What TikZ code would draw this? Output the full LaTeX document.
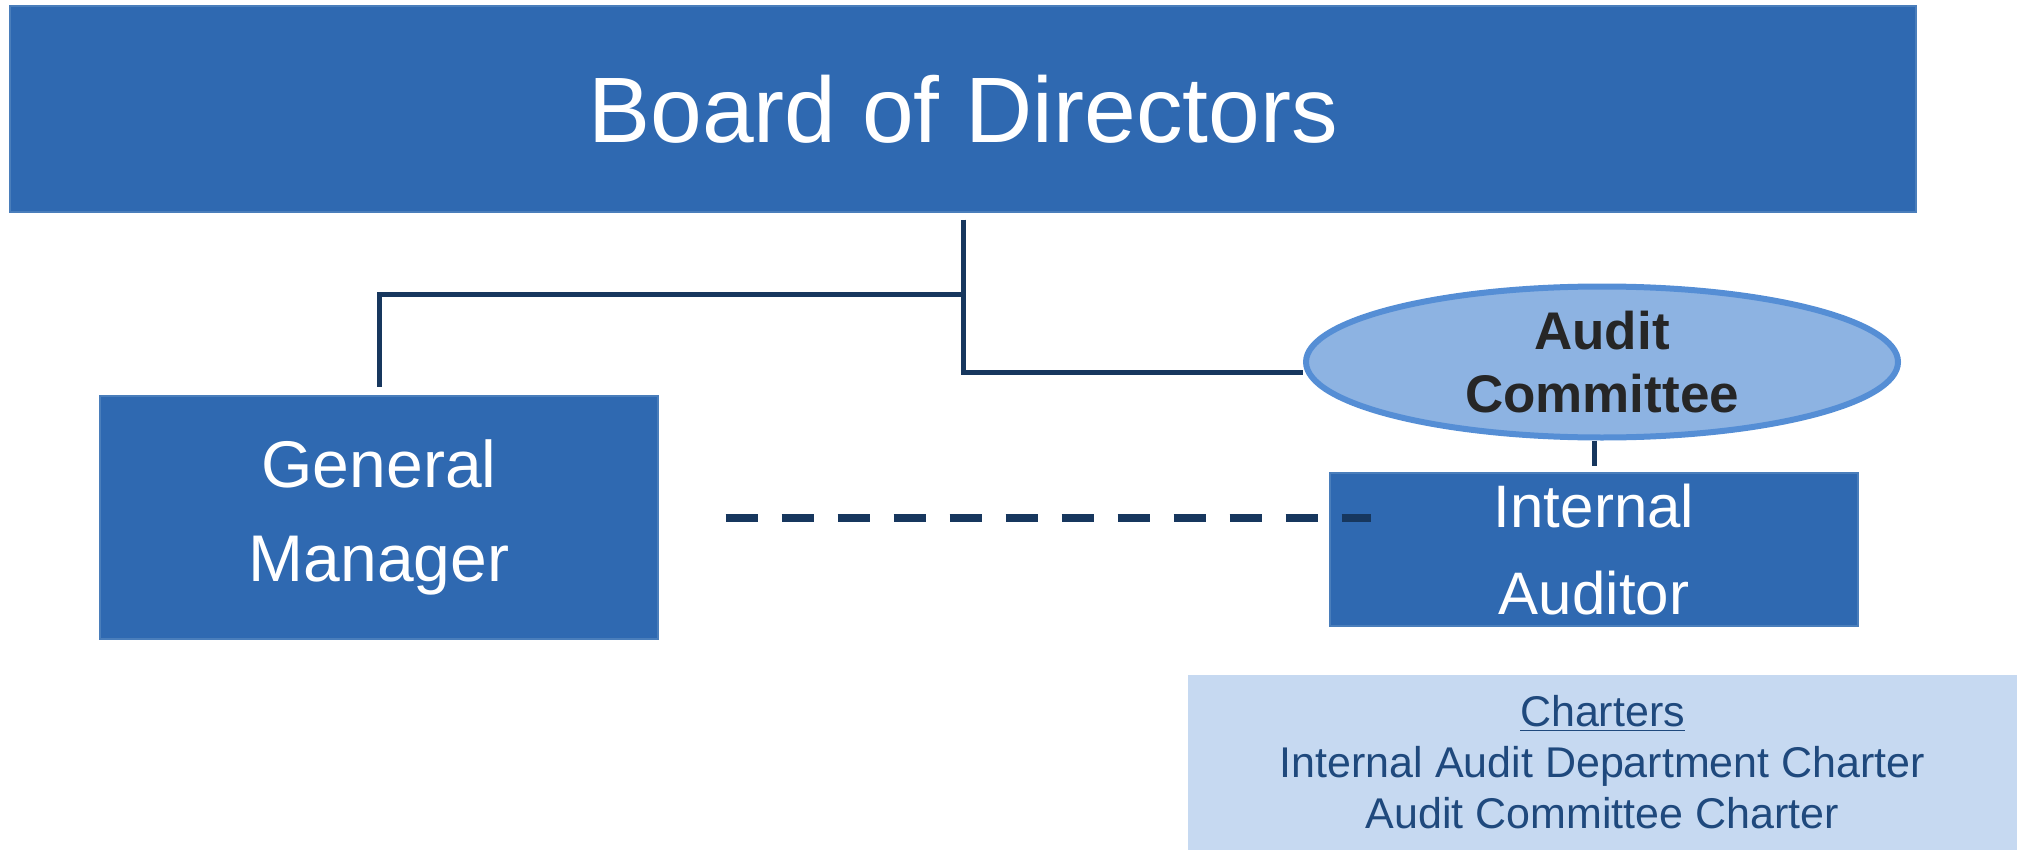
\documentclass[tikz,border=0pt]{standalone}
\usepackage{fontspec}
\setmainfont{Liberation Sans}
\usetikzlibrary{shapes.geometric}

\definecolor{boxblue}{HTML}{2F69B1}
\definecolor{boxline}{HTML}{4A7EBB}
\definecolor{navy}{HTML}{17375E}
\definecolor{ellfill}{HTML}{8DB3E2}
\definecolor{ellline}{HTML}{558ED5}
\definecolor{chfill}{HTML}{C6D9F1}
\definecolor{chtext}{HTML}{1F497D}
\definecolor{actext}{HTML}{262626}

\begin{document}
\begin{tikzpicture}[x=0.5pt,y=-0.5pt,
  box/.style={rectangle,fill=boxblue,draw=boxline,line width=0.6pt,text=white,align=center,inner sep=0pt},
  committee/.style={ellipse,fill=ellfill,draw=ellline,line width=3pt,text=actext,align=center,inner sep=0pt,
    font=\fontsize{26.5pt}{31.5pt}\selectfont\bfseries},
  orgline/.style={draw=navy,line width=2.5pt},
  dashline/.style={draw=navy,line width=4pt,dash pattern=on 16pt off 12pt}]

  \useasboundingbox (0,0) rectangle (2017,850);

  \node[box,minimum width=953pt,minimum height=103pt,font=\fontsize{46.5pt}{56pt}\selectfont] (board) at (963,109) {Board of Directors};
  \node[box,minimum width=279pt,minimum height=121.5pt,font=\fontsize{33pt}{47pt}\selectfont] (gm) at (379,517.5) {General\\Manager};
  \node[committee,minimum width=296pt,minimum height=75.5pt] (ac) at (1602,362) {Audit\\Committee};
  \node[box,minimum width=264pt,minimum height=76.5pt,font=\fontsize{30pt}{43.5pt}\selectfont] (ia) at (1594,549.5) {Internal\\Auditor};
  \node[rectangle,fill=chfill,text=chtext,align=center,inner sep=0pt,minimum width=414.5pt,minimum height=87.5pt,
    font=\fontsize{21.5pt}{25.5pt}\selectfont] (charters) at (1602.5,762.5)
    {\underline{Charters}\\Internal Audit Department Charter\\Audit Committee Charter};

  % reporting lines
  \coordinate (split) at (963,294);
  \draw[orgline,shorten <=3.5pt] (board.south) |- ([yshift=-5pt]ac.west);
  \draw[orgline,shorten >=4pt] (split) -| (gm.north);
  \draw[orgline,shorten >=3pt] (ia.north |- ac.south) -- (ia.north);

  % dotted line
  \draw[dashline] ([xshift=33.5pt]gm.east) -- ([xshift=21pt]gm.east -| ia.west);
\end{tikzpicture}
\end{document}
